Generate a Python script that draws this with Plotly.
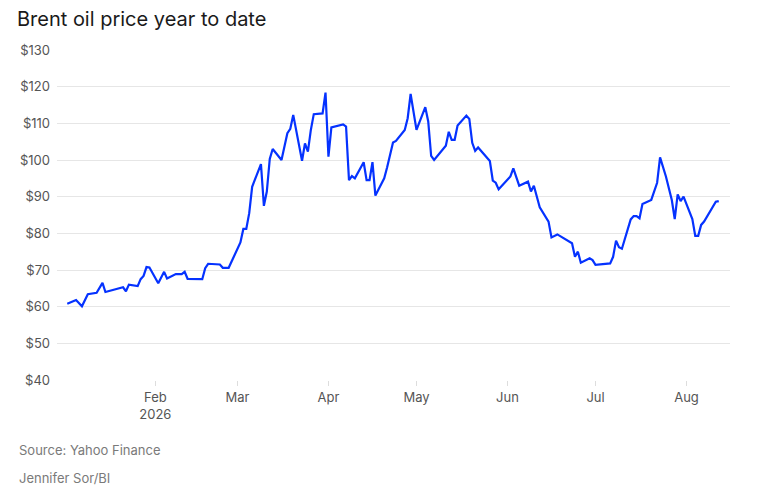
import plotly.graph_objects as go

# brent price
dates = [
    '2026-01-02', '2026-01-05', '2026-01-07', '2026-01-09', '2026-01-12', '2026-01-14', '2026-01-15',
    '2026-01-21', '2026-01-22', '2026-01-23', '2026-01-26', '2026-01-27', '2026-01-28', '2026-01-29',
    '2026-01-30', '2026-02-02', '2026-02-04', '2026-02-05', '2026-02-08', '2026-02-10', '2026-02-11',
    '2026-02-12', '2026-02-17', '2026-02-18', '2026-02-19', '2026-02-23', '2026-02-24', '2026-02-26',
    '2026-03-02', '2026-03-03', '2026-03-04', '2026-03-05', '2026-03-06', '2026-03-09', '2026-03-10',
    '2026-03-11', '2026-03-12', '2026-03-13', '2026-03-16', '2026-03-18', '2026-03-19', '2026-03-20',
    '2026-03-23', '2026-03-24', '2026-03-25', '2026-03-26', '2026-03-27', '2026-03-30', '2026-03-31',
    '2026-04-01', '2026-04-02', '2026-04-06', '2026-04-07', '2026-04-08', '2026-04-09', '2026-04-10',
    '2026-04-13', '2026-04-14', '2026-04-15', '2026-04-16', '2026-04-17', '2026-04-20', '2026-04-21',
    '2026-04-23', '2026-04-24', '2026-04-27', '2026-04-28', '2026-04-29', '2026-05-01', '2026-05-04',
    '2026-05-05', '2026-05-06', '2026-05-07', '2026-05-11', '2026-05-12', '2026-05-13', '2026-05-14',
    '2026-05-15', '2026-05-18', '2026-05-19', '2026-05-20', '2026-05-21', '2026-05-22', '2026-05-26',
    '2026-05-27', '2026-05-28', '2026-05-29', '2026-06-02', '2026-06-03', '2026-06-05', '2026-06-08',
    '2026-06-09', '2026-06-10', '2026-06-12', '2026-06-15', '2026-06-16', '2026-06-18', '2026-06-23',
    '2026-06-24', '2026-06-25', '2026-06-26', '2026-06-29', '2026-06-30', '2026-07-01', '2026-07-06',
    '2026-07-07', '2026-07-08', '2026-07-09', '2026-07-10', '2026-07-13', '2026-07-14', '2026-07-15',
    '2026-07-16', '2026-07-17', '2026-07-20', '2026-07-21', '2026-07-22', '2026-07-23', '2026-07-25',
    '2026-07-27', '2026-07-28', '2026-07-29', '2026-07-30', '2026-07-31', '2026-08-03', '2026-08-04',
    '2026-08-05', '2026-08-06', '2026-08-07', '2026-08-11', '2026-08-12',
]
prices = [
    60.8, 61.8, 60.1, 63.4, 63.8, 66.5, 64.0,
    65.3, 64.2, 66.0, 65.6, 67.5, 68.4, 70.8,
    70.7, 66.4, 69.5, 67.7, 68.9, 68.9, 69.5,
    67.6, 67.5, 70.5, 71.7, 71.5, 70.6, 70.6,
    77.5, 81.2, 81.2, 85.5, 92.7, 98.9, 87.5,
    91.4, 100.3, 103.0, 100.0, 107.3, 108.5, 112.3,
    99.8, 104.5, 102.3, 108.2, 112.5, 112.7, 118.4,
    100.9, 108.9, 109.7, 109.1, 94.5, 95.6, 95.0,
    99.4, 94.5, 94.5, 99.4, 90.3, 95.0, 98.0,
    104.8, 105.2, 108.2, 111.4, 118.0, 108.2, 114.4,
    110.5, 101.1, 100.0, 103.9, 107.7, 105.5, 105.5,
    109.4, 112.1, 111.2, 104.7, 102.5, 103.4, 99.7,
    94.4, 93.8, 92.0, 95.5, 97.7, 93.0, 94.1,
    91.4, 93.0, 87.1, 83.2, 78.9, 79.7, 77.3,
    73.6, 75.0, 72.0, 73.2, 72.7, 71.4, 71.8,
    73.6, 78.0, 76.2, 75.8, 83.8, 84.7, 84.7,
    84.1, 88.0, 89.1, 91.4, 93.8, 100.7, 95.5,
    89.1, 83.9, 90.6, 88.8, 90.0, 83.9, 79.3,
    79.3, 82.3, 83.2, 88.6, 88.8,
]

x_ticks = ['2026-02-01', '2026-03-01', '2026-04-01', '2026-05-01', '2026-06-01', '2026-07-01', '2026-08-01']
x_labels = ['Feb<br>2026', 'Mar', 'Apr', 'May', 'Jun', 'Jul', 'Aug']

y_ticks = [40, 50, 60, 70, 80, 90, 100, 110, 120, 130]
y_labels = ['$' + str(v) for v in y_ticks]

font_name = 'Inter'

fig = go.Figure()

fig.add_trace(go.Scatter(x=dates, y=prices, mode='lines',
                         line=dict(color='#0532ff', width=2.2)))

# page body adds 8px offset, so margins are 8px smaller than the picture
fig.update_layout(
    width=766, height=496,
    margin=dict(l=49, r=44, t=42, b=124),
    paper_bgcolor='white', plot_bgcolor='white',
    showlegend=False,
    font=dict(family=font_name, size=13, color='#555555'),
    title=dict(text='Brent oil price year to date', x=0.0117, xanchor='left',
               y=0.977, yanchor='middle',
               font=dict(family=font_name, size=20, color='#1a1a1a')),
)

fig.update_xaxes(
    type='date',
    range=['2025-12-29 12:00', '2026-08-15 20:00'],
    tickvals=x_ticks, ticktext=x_labels,
    showgrid=False, zeroline=False, showline=False,
    ticks='outside', ticklen=5, tickcolor='#dddddd',
    tickfont=dict(size=13, color='#555555'),
)

fig.update_yaxes(
    range=[40, 130],
    tickvals=y_ticks, ticktext=y_labels,
    showgrid=True, gridcolor='#e6e6e6', gridwidth=1,
    zeroline=False, showline=False,
    tickfont=dict(size=13, color='#555555'),
    ticklabelstandoff=6,
)

fig.add_annotation(text='Source: Yahoo Finance', xref='paper', yref='paper',
                   x=-0.0594, y=-0.212, xanchor='left', yanchor='middle', showarrow=False,
                   font=dict(size=13, color='#7a7a7a'))
fig.add_annotation(text='Jennifer Sor/BI', xref='paper', yref='paper',
                   x=-0.0594, y=-0.297, xanchor='left', yanchor='middle', showarrow=False,
                   font=dict(size=13, color='#7a7a7a'))

fig.write_html('out.html')
